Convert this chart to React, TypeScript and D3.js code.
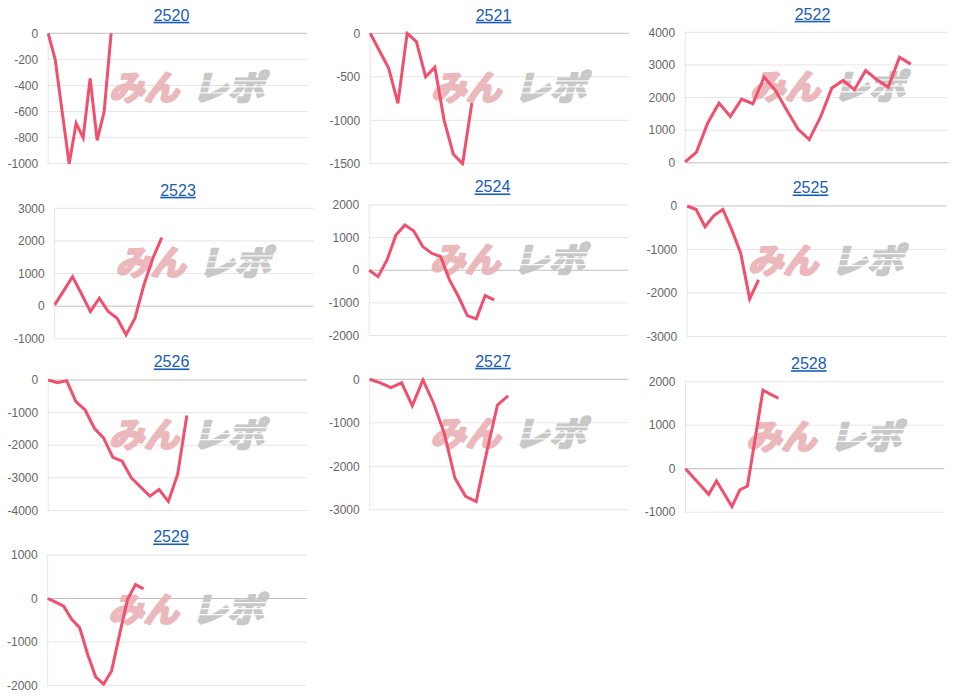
import React from "react";
import * as d3 from "d3";

const titles = ["2520", "2521", "2522", "2523", "2524", "2525", "2526", "2527", "2528", "2529"];

const values2520 = [0, -200, -600, -1000, -690, -800, -345, -820, -600, 0];
const values2521 = [0, -200, -400, -805, 0, -95, -500, -390, -1000, -1390, -1500, -800];
const values2522 = [30, 330, 1220, 1830, 1420, 1950, 1810, 2625, 2220, 1620, 1035, 710, 1405, 2290, 2525, 2240, 2830, 2545, 2320, 3235, 3025];
const values2523 = [40, 470, 905, 380, -165, 245, -165, -370, -880, -370, 650, 1470, 2100];
const values2524 = [0, -195, 315, 1080, 1390, 1205, 725, 520, 420, -295, -805, -1390, -1490, -775, -905];
const values2525 = [0, -80, -475, -220, -80, -550, -1085, -2135, -1700];
const values2526 = [0, -80, -20, -660, -920, -1480, -1780, -2370, -2490, -3000, -3280, -3560, -3360, -3720, -2900, -1090];
const values2527 = [0, -80, -190, -80, -610, -15, -550, -1240, -2270, -2690, -2810, -1660, -590, -380];
const values2528 = [0, -195, -390, -590, -280, -575, -870, -490, -400, 700, 1805, 1710, 1620];
const values2529 = [0, -85, -175, -480, -670, -1280, -1800, -1970, -1665, -825, -20, 320, 220];

const seriesList = [values2520, values2521, values2522, values2523, values2524, values2525, values2526, values2527, values2528, values2529];

// x-axis span (number of intervals across the plot width)
const xSpans = [37, 28, 23.3, 29, 29, 29, 28, 24.3, 33.4, 32.4];

const yMins = [-1000, -1500, 0, -1000, -2000, -3000, -4000, -3000, -1000, -2000];
const yMaxs = [0, 0, 4000, 3000, 2000, 0, 0, 0, 2000, 1000];
const ySteps = [200, 500, 1000, 1000, 1000, 1000, 1000, 1000, 1000, 1000];

// layout (cell origins / plot tops)
const cellX = [0, 322, 641, 6.5, 321, 639, 0, 321.5, 637.3, -0.5];
const plotTops = [33.3, 33.3, 32.3, 208.3, 205, 206, 380, 379.3, 381.7, 555];
const PLOT_H = 130.5;
const LINE_COLOR = "#f04f6d";
const FONT = "'Liberation Sans', Arial, Helvetica, sans-serif";

function labelWidth(s: string) {
  let w = 0;
  for (const c of s) w += c === "-" ? 4 : 6.67;
  return w;
}

function MiniChart({ i }: { i: number }) {
  const ox = cellX[i];
  const top = plotTops[i];
  const bottom = top + PLOT_H;
  const ticks = d3.range(yMins[i], yMaxs[i] + ySteps[i] / 2, ySteps[i]);
  const maxW = Math.max(...ticks.map((t) => labelWidth(String(t))));
  const left = ox + 7.5 + maxW + 10;
  const right = ox + 307;
  const x = d3.scaleLinear().domain([0, xSpans[i]]).range([left, right]);
  const y = d3.scaleLinear().domain([yMins[i], yMaxs[i]]).range([bottom, top]);
  const line = d3
    .line<number>()
    .x((_, k) => x(k))
    .y((d) => y(d));
  const wmX = ox + 188;
  const wmY = top + 55;
  const clipId = `clip${i}`;
  const wmFont = "'Noto Sans CJK JP', 'Noto Sans CJK SC', sans-serif";
  return (
    <g>
      <text
        x={ox + 171.5}
        y={top - 18.3}
        dy="0.36em"
        textAnchor="middle"
        fontFamily={FONT}
        fontSize={16}
        fill="#1a5db4"
        textDecoration="underline"
      >
        {titles[i]}
      </text>
      {ticks.map((t) => (
        <g key={t}>
          <line
            x1={left}
            x2={right}
            y1={y(t)}
            y2={y(t)}
            stroke={t === 0 ? "rgba(0,0,0,0.25)" : "rgba(0,0,0,0.1)"}
            strokeWidth={1}
          />
          <text
            x={left - 10}
            y={y(t)}
            dy="0.35em"
            textAnchor="end"
            fontFamily={FONT}
            fontSize={12}
            fill="#666"
          >
            {t}
          </text>
        </g>
      ))}
      <line x1={left} x2={left} y1={top} y2={bottom} stroke="rgba(0,0,0,0.1)" />
      <g transform={`translate(${wmX},${wmY})`} opacity={0.92}>
        <g transform="skewX(-14)">
          <text
            x={-76}
            y={12}
            textLength={70}
            lengthAdjust="spacingAndGlyphs"
            fontFamily={wmFont}
            fontWeight={700}
            fontSize={34}
            fill="#eab2b6"
            stroke="#eab2b6"
            strokeWidth={2.6}
            strokeLinejoin="round"
          >
            みん
          </text>
          <text
            x={7}
            y={12}
            textLength={72}
            lengthAdjust="spacingAndGlyphs"
            fontFamily={wmFont}
            fontWeight={700}
            fontSize={34}
            fill="#c4c4c4"
            stroke="#c4c4c4"
            strokeWidth={2.6}
            strokeLinejoin="round"
          >
            レポ
          </text>
          {[-8, -2, 4].map((dy) => (
            <rect key={dy} x={4} y={dy} width={82} height={1.2} fill="#fff" opacity={0.9} />
          ))}
        </g>
      </g>
      <clipPath id={clipId}>
        <rect x={left - 2} y={top - 2} width={right - left + 4} height={PLOT_H + 4} />
      </clipPath>
      <path
        d={line(seriesList[i]) || ""}
        fill="none"
        stroke={LINE_COLOR}
        strokeWidth={3}
        strokeLinejoin="miter"
        strokeMiterlimit={4}
        clipPath={`url(#${clipId})`}
      />
    </g>
  );
}

export default function App() {
  return (
    <svg
      width={957}
      height={696}
      style={{ position: "absolute", left: 0, top: 0, background: "#fff" }}
    >
      {titles.map((_, i) => (
        <MiniChart key={i} i={i} />
      ))}
    </svg>
  );
}
